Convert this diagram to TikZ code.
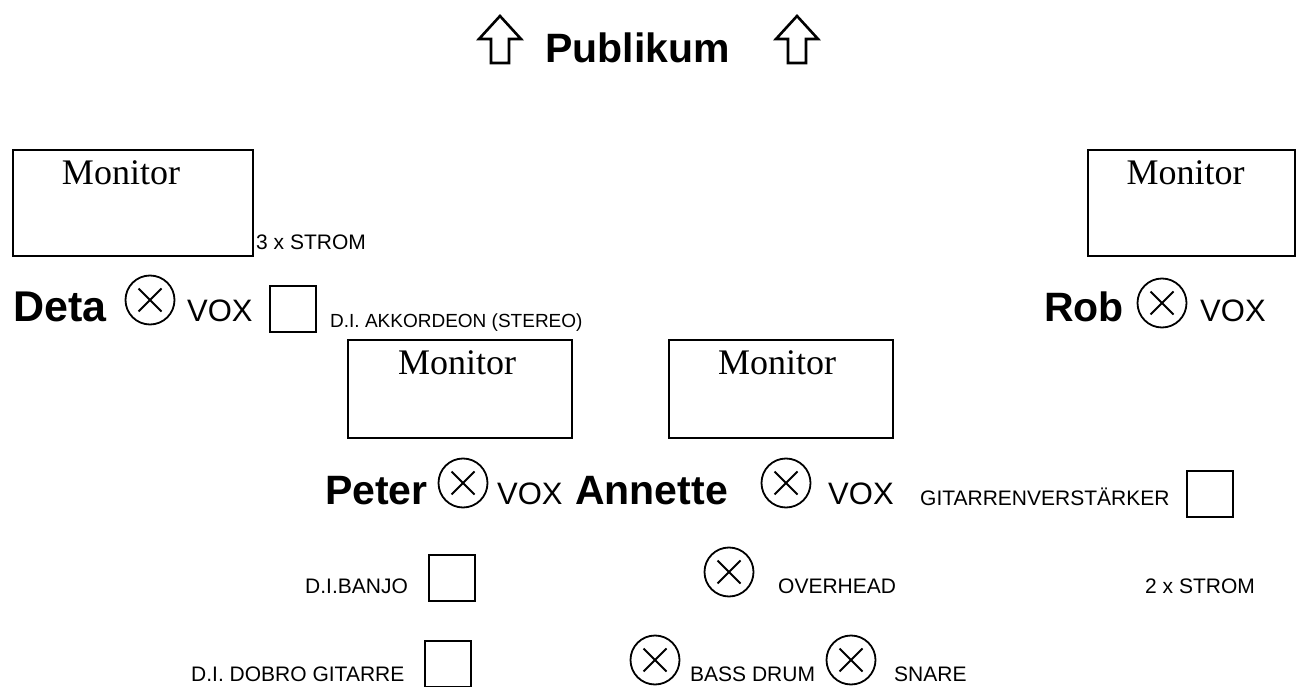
\documentclass[tikz,border=0pt]{standalone}
\usepackage{fontspec}
\setmainfont{Liberation Sans}
\newfontfamily\serifmon{Liberation Serif}
\begin{document}
\begin{tikzpicture}[x=1pt,y=-1pt,
  lw/.style={line width=2pt},
  monitor/.style={draw,lw,inner sep=0pt,anchor=north west},
  montext/.style={font=\serifmon\fontsize{36}{36}\selectfont,anchor=north,inner sep=0pt},
  pname/.style={font=\bfseries\fontsize{41}{41}\selectfont,anchor=base west,inner sep=0pt},
  vox/.style={font=\fontsize{31}{31}\selectfont,anchor=base west,inner sep=0pt},
  smalltext/.style={font=\fontsize{21}{21}\selectfont,anchor=base west,inner sep=0pt},
  mic/.style={circle,draw,line width=1.8pt,minimum size=49pt,inner sep=0pt,
    path picture={\draw[line width=1.8pt]
      ([shift={(-11.5,-11.5)}]path picture bounding box.center) -- ([shift={(11.5,11.5)}]path picture bounding box.center)
      ([shift={(-11.5,11.5)}]path picture bounding box.center) -- ([shift={(11.5,-11.5)}]path picture bounding box.center);}},
  dibox/.style={draw,lw,inner sep=0pt,minimum width=46pt,minimum height=46pt},
  uparrow/.style={draw,line width=2.6pt,line join=miter}
]
\useasboundingbox (0,0) rectangle (1302,687);

% audience arrows
\draw[uparrow] (500,16) -- (521,39) -- (509,39) -- (509,63) -- (491,63) -- (491,39) -- (479,39) -- cycle;
\draw[uparrow] (797,16) -- (818,39) -- (806,39) -- (806,63) -- (788,63) -- (788,39) -- (776,39) -- cycle;
\node[font=\bfseries\fontsize{41}{41}\selectfont,anchor=base west,inner sep=0pt] (pub) at (545,63) {Publikum};

% monitors
\node[monitor,minimum width=240pt,minimum height=106pt] (m1) at (12,149) {};
\node[montext] (m1t) at ([xshift=-12pt,yshift=-11pt]m1.north) {Monitor};
\node[monitor,minimum width=207pt,minimum height=106pt] (m2) at (1087,149) {};
\node[montext] (m2t) at ([xshift=-6pt,yshift=-11pt]m2.north) {Monitor};
\node[monitor,minimum width=224pt,minimum height=98pt] (m3) at (347,339) {};
\node[montext] (m3t) at ([xshift=-3pt,yshift=-11pt]m3.north) {Monitor};
\node[monitor,minimum width=224pt,minimum height=98pt] (m4) at (668,339) {};
\node[montext] (m4t) at ([xshift=-4pt,yshift=-11pt]m4.north) {Monitor};

\node[smalltext] (strom3) at (256,250) {3 x STROM};

% Deta row
\node[pname,font=\bfseries\fontsize{43}{43}\selectfont] (deta) at (13,322) {Deta};
\node[mic] (detamic) at (150,300) {};
\node[vox] (detavox) at (187,322) {VOX};
\node[dibox] (akk) at (293,309) {};
\node[smalltext,font=\fontsize{19}{19}\selectfont] (akkt) at (330,327) {D.I. AKKORDEON (STEREO)};

% Rob
\node[pname] (rob) at (1044,322) {Rob};
\node[mic] (robmic) at (1162,303) {};
\node[vox] (robvox) at (1200,322) {VOX};

% Peter / Annette row
\node[pname] (peter) at (325,504) {Peter};
\node[mic] (petermic) at (463,483) {};
\node[vox] (petervox) at (497,504) {VOX};
\node[pname] (annette) at (575,504) {Annette};
\node[mic] (annmic) at (786,483) {};
\node[vox] (annvox) at (828,504) {VOX};
\node[smalltext] (gitt) at (920,505) {GITARRENVERSTÄRKER};
\node[dibox] (git) at (1210,494) {};

% banjo row
\node[smalltext] (banjot) at (305,593) {D.I.BANJO};
\node[dibox] (banjo) at (452,578) {};
\node[mic] (over) at (729,572) {};
\node[smalltext] (overt) at (778,593) {OVERHEAD};
\node[smalltext] (strom2) at (1145,593) {2 x STROM};

% dobro row
\node[smalltext] (dobrot) at (191,681) {D.I. DOBRO GITARRE};
\node[dibox] (dobro) at (448,664) {};
\node[mic] (bass) at (655,660) {};
\node[smalltext] (basst) at (690,681) {BASS DRUM};
\node[mic] (snare) at (851,660) {};
\node[smalltext] (snaret) at (894,681) {SNARE};
\end{tikzpicture}
\end{document}
